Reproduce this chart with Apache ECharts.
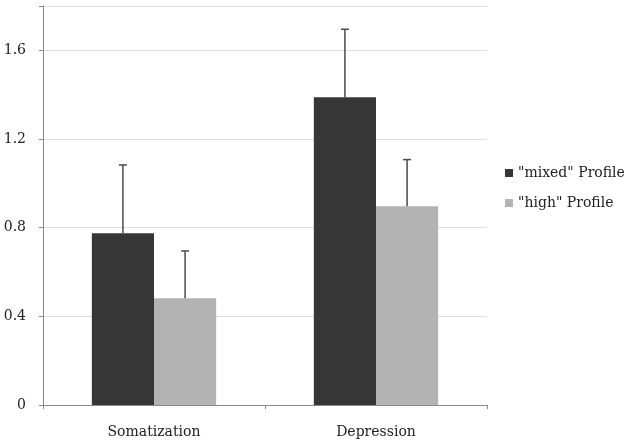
<!DOCTYPE html>
<html>
<head>
<meta charset="utf-8">
<script src="https://cdn.jsdelivr.net/npm/echarts@6/dist/echarts.min.js"></script>
<style>
html,body{margin:0;padding:0;background:#fff;}
#chart{width:630px;height:443px;}
</style>
</head>
<body>
<div id="chart"></div>
<script>
const categories = ['Somatization', 'Depression'];
const seriesNames = ['"mixed" Profile', '"high" Profile'];
const mixedValues = [0.775, 1.388];
const highValues = [0.482, 0.897];
const mixedErrorTop = [1.083, 1.695];
const highErrorTop = [0.695, 1.107];
const yTicks = [0, 0.4, 0.8, 1.2, 1.6];

const colors = ['#363636', '#b3b3b3'];
const gapRatio = 0.44;
const fontFam = '"DejaVu Serif", "Liberation Serif", serif';

function errorSeries(idx, values, tops) {
  return {
    type: 'custom',
    name: seriesNames[idx] + ' error',
    data: categories.map((c, i) => [i, values[i], tops[i]]),
    z: 5,
    silent: true,
    renderItem: function (params, api) {
      const i = api.value(0);
      const base = api.coord([i, api.value(1)]);
      const top = api.coord([i, api.value(2)]);
      const band = api.size([1, 0])[0];
      const barW = band * (1 - gapRatio) / 2;
      const x = base[0] + (idx === 0 ? -barW / 2 : barW / 2);
      const cap = 4;
      const style = { stroke: '#4a4a4a', lineWidth: 1.5 };
      return {
        type: 'group',
        children: [
          { type: 'line', shape: { x1: x, y1: base[1], x2: x, y2: top[1] }, style: style },
          { type: 'line', shape: { x1: x - cap, y1: top[1], x2: x + cap, y2: top[1] }, style: style }
        ]
      };
    }
  };
}

const chart = echarts.init(document.getElementById('chart'));
chart.setOption({
  animation: false,
  backgroundColor: '#fff',
  grid: { left: 43, right: 143, top: 6, bottom: 38, containLabel: false },
  legend: {
    data: seriesNames,
    orient: 'vertical',
    left: 500,
    top: 161,
    itemWidth: 8,
    itemHeight: 8,
    itemGap: 16,
    icon: 'rect',
    textStyle: { fontFamily: fontFam, fontSize: 14, lineHeight: 14, color: '#222', padding: [0, 0, 0, 0] }
  },
  xAxis: {
    type: 'category',
    data: categories,
    axisLine: { lineStyle: { color: '#8a8a8a', width: 1 } },
    axisTick: { show: true, length: 4, lineStyle: { color: '#8a8a8a' } },
    axisLabel: { margin: 20, fontFamily: fontFam, fontSize: 14, color: '#222' }
  },
  yAxis: {
    type: 'value',
    min: 0,
    max: 1.8,
    interval: 0.4,
    axisLine: { show: true, lineStyle: { color: '#8a8a8a', width: 1 } },
    axisTick: { show: true, inside: false, length: 4, lineStyle: { color: '#8a8a8a' } },
    axisLabel: {
      margin: 17,
      fontFamily: fontFam, fontSize: 14, color: '#222',
      formatter: function (v) { return yTicks.indexOf(Math.round(v * 10) / 10) >= 0 ? String(Math.round(v * 10) / 10) : ''; }
    },
    splitLine: { lineStyle: { color: '#dedede', width: 1 } }
  },
  series: [
    {
      type: 'bar', name: seriesNames[0], data: mixedValues,
      itemStyle: { color: colors[0] },
      barGap: '0%', barCategoryGap: (gapRatio * 100) + '%'
    },
    {
      type: 'bar', name: seriesNames[1], data: highValues,
      itemStyle: { color: colors[1] },
      barGap: '0%', barCategoryGap: (gapRatio * 100) + '%'
    },
    errorSeries(0, mixedValues, mixedErrorTop),
    errorSeries(1, highValues, highErrorTop)
  ]
});
</script>
</body>
</html>
